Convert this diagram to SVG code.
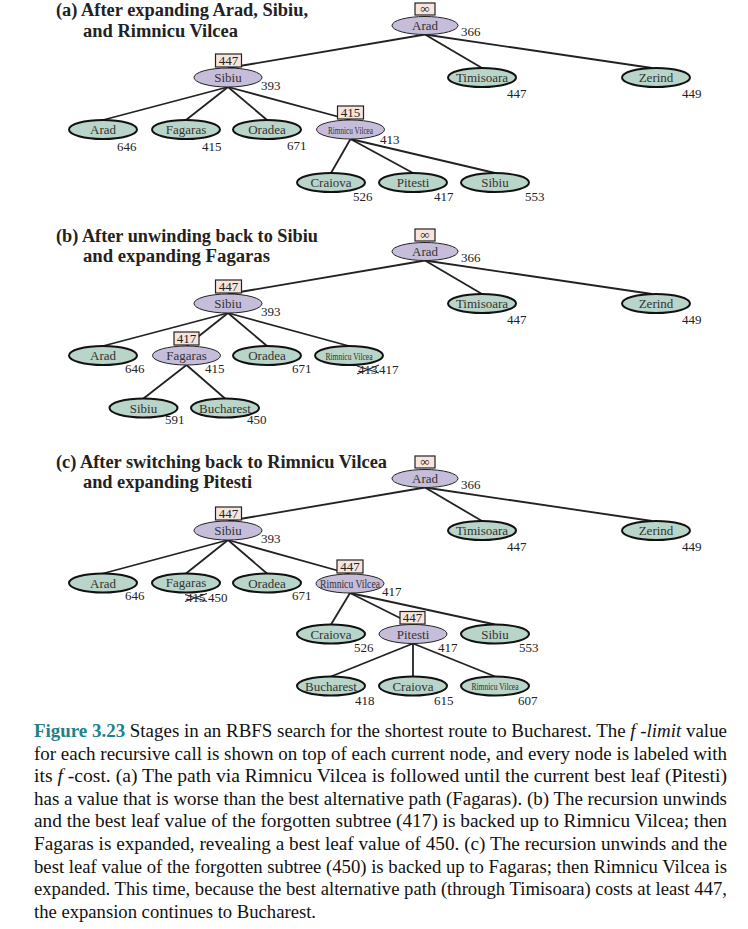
<svg xmlns="http://www.w3.org/2000/svg" width="748" height="929" viewBox="0 0 748 929">
<style>
.pn{fill:#c5bdd9;stroke:#222;stroke-width:1}
.gn{fill:#b9d4c8;stroke:#111;stroke-width:2}
.bx{fill:#f7e5dd;stroke:#222;stroke-width:1.2}
.lbl{font-family:"Liberation Serif",serif;font-size:13px;text-anchor:middle;fill:#333}
.sm{font-size:11px}
.num{font-family:"Liberation Serif",serif;font-size:13px;fill:#222}
.bxt{font-family:"Liberation Serif",serif;font-size:13px;text-anchor:middle;fill:#222}
.edge{stroke:#222;stroke-width:1.8;fill:none}
.x{stroke:#222;stroke-width:1.3}
.ttl{font-family:"Liberation Serif",serif;font-weight:bold;font-size:18px;fill:#222}
.cap{font-family:"Liberation Serif",serif;font-size:18px;fill:#111}
.fig{font-weight:bold;fill:#23808a}
.it{font-style:italic}
</style>
<rect width="748" height="929" fill="#fff"/>

<!-- Titles -->
<text class="ttl" x="56" y="16" textLength="252" lengthAdjust="spacingAndGlyphs">(a) After expanding Arad, Sibiu,</text>
<text class="ttl" x="83" y="37" textLength="155" lengthAdjust="spacingAndGlyphs">and Rimnicu Vilcea</text>
<text class="ttl" x="56" y="242" textLength="262" lengthAdjust="spacingAndGlyphs">(b) After unwinding back to Sibiu</text>
<text class="ttl" x="83" y="262" textLength="187" lengthAdjust="spacingAndGlyphs">and expanding Fagaras</text>
<text class="ttl" x="56" y="468" textLength="331" lengthAdjust="spacingAndGlyphs">(c) After switching back to Rimnicu Vilcea</text>
<text class="ttl" x="83" y="488" textLength="169" lengthAdjust="spacingAndGlyphs">and expanding Pitesti</text>

<!-- Connectors -->
<g id="connectors">
<line class="edge" x1="425" y1="34.5" x2="228" y2="68"/>
<line class="edge" x1="425" y1="34.5" x2="482" y2="68"/>
<line class="edge" x1="425" y1="34.5" x2="652" y2="68"/>
<line class="edge" x1="228" y1="87" x2="103" y2="120"/>
<line class="edge" x1="228" y1="87" x2="186" y2="120"/>
<line class="edge" x1="228" y1="87" x2="267" y2="120"/>
<line class="edge" x1="228" y1="87" x2="350.5" y2="120"/>
<line class="edge" x1="350.5" y1="139" x2="331" y2="173"/>
<line class="edge" x1="350.5" y1="139" x2="413" y2="173"/>
<line class="edge" x1="350.5" y1="139" x2="495" y2="173"/>

<line class="edge" x1="425" y1="260.5" x2="228" y2="294"/>
<line class="edge" x1="425" y1="260.5" x2="482" y2="294"/>
<line class="edge" x1="425" y1="260.5" x2="652" y2="294"/>
<line class="edge" x1="228" y1="313" x2="103" y2="346"/>
<line class="edge" x1="228" y1="313" x2="186.5" y2="346"/>
<line class="edge" x1="228" y1="313" x2="267" y2="346"/>
<line class="edge" x1="228" y1="313" x2="349" y2="346"/>
<line class="edge" x1="186.5" y1="365" x2="143.5" y2="398.5"/>
<line class="edge" x1="186.5" y1="365" x2="225" y2="398.5"/>

<line class="edge" x1="425" y1="487.5" x2="228" y2="521"/>
<line class="edge" x1="425" y1="487.5" x2="482" y2="521"/>
<line class="edge" x1="425" y1="487.5" x2="652" y2="521"/>
<line class="edge" x1="228" y1="540" x2="103" y2="573.5"/>
<line class="edge" x1="228" y1="540" x2="186" y2="573.5"/>
<line class="edge" x1="228" y1="540" x2="267" y2="573.5"/>
<line class="edge" x1="228" y1="540" x2="350" y2="574"/>
<line class="edge" x1="350" y1="593" x2="331" y2="624.5"/>
<line class="edge" x1="350" y1="593" x2="413" y2="624.5"/>
<line class="edge" x1="350" y1="593" x2="495" y2="624.5"/>
<line class="edge" x1="413" y1="643.5" x2="331" y2="676.5"/>
<line class="edge" x1="413" y1="643.5" x2="413" y2="676.5"/>
<line class="edge" x1="413" y1="643.5" x2="495" y2="676.5"/>
</g>

<!-- Section (a) nodes -->
<g id="a-arad"><ellipse class="pn" cx="425" cy="25.5" rx="33" ry="9"/><text class="lbl" x="425" y="30">Arad</text><rect class="bx" x="415" y="3" width="20" height="12"/><text class="bxt" x="425" y="13" font-size="11">∞</text><text class="num" x="461" y="36">366</text></g>
<g id="a-timisoara"><ellipse class="gn" cx="482" cy="77.5" rx="34" ry="9.5"/><text class="lbl" x="482" y="82">Timisoara</text><text class="num" x="507" y="98">447</text></g>
<g id="a-zerind"><ellipse class="gn" cx="656" cy="77.5" rx="34" ry="9.5"/><text class="lbl" x="656" y="82">Zerind</text><text class="num" x="682" y="98">449</text></g>
<g id="a-sibiu"><ellipse class="pn" cx="228" cy="77.5" rx="34" ry="9.5"/><text class="lbl" x="228" y="82">Sibiu</text><rect class="bx" x="215.5" y="54" width="26" height="13"/><text class="bxt" x="228.5" y="65">447</text><text class="num" x="261" y="90">393</text></g>
<g id="a-arad2"><ellipse class="gn" cx="103" cy="129.5" rx="34" ry="9.5"/><text class="lbl" x="103" y="134">Arad</text><text class="num" x="117" y="151">646</text></g>
<g id="a-fagaras"><ellipse class="gn" cx="186" cy="129.5" rx="34" ry="9.5"/><text class="lbl" x="186" y="134">Fagaras</text><text class="num" x="202" y="151">415</text></g>
<g id="a-oradea"><ellipse class="gn" cx="267" cy="129.5" rx="34" ry="9.5"/><text class="lbl" x="267" y="134">Oradea</text><text class="num" x="287" y="150">671</text></g>
<g id="a-rimnicu"><ellipse class="pn" cx="350.5" cy="129.5" rx="34" ry="9.5"/><text class="lbl sm" transform="translate(350.5,133.5) scale(0.66,1)" x="0" y="0">Rimnicu Vilcea</text><rect class="bx" x="337.5" y="106" width="26" height="13"/><text class="bxt" x="350.5" y="117">415</text><text class="num" x="380" y="144">413</text></g>
<g id="a-craiova"><ellipse class="gn" cx="331" cy="182.5" rx="34" ry="9.5"/><text class="lbl" x="331" y="187">Craiova</text><text class="num" x="353" y="201">526</text></g>
<g id="a-pitesti"><ellipse class="gn" cx="413" cy="182.5" rx="34" ry="9.5"/><text class="lbl" x="413" y="187">Pitesti</text><text class="num" x="434" y="201">417</text></g>
<g id="a-sibiu2"><ellipse class="gn" cx="495" cy="182.5" rx="34" ry="9.5"/><text class="lbl" x="495" y="187">Sibiu</text><text class="num" x="525" y="201">553</text></g>

<!-- Section (b) nodes -->
<g id="b-arad"><ellipse class="pn" cx="425" cy="251.5" rx="33" ry="9"/><text class="lbl" x="425" y="256">Arad</text><rect class="bx" x="415" y="229" width="20" height="12"/><text class="bxt" x="425" y="239" font-size="11">∞</text><text class="num" x="461" y="262">366</text></g>
<g id="b-timisoara"><ellipse class="gn" cx="482" cy="303.5" rx="34" ry="9.5"/><text class="lbl" x="482" y="308">Timisoara</text><text class="num" x="507" y="324">447</text></g>
<g id="b-zerind"><ellipse class="gn" cx="656" cy="303.5" rx="34" ry="9.5"/><text class="lbl" x="656" y="308">Zerind</text><text class="num" x="682" y="324">449</text></g>
<g id="b-sibiu"><ellipse class="pn" cx="228" cy="303.5" rx="34" ry="9.5"/><text class="lbl" x="228" y="308">Sibiu</text><rect class="bx" x="215.5" y="280" width="26" height="13"/><text class="bxt" x="228.5" y="291">447</text><text class="num" x="261" y="316">393</text></g>
<g id="b-arad2"><ellipse class="gn" cx="103" cy="355.5" rx="34" ry="9.5"/><text class="lbl" x="103" y="360">Arad</text><text class="num" x="125" y="373">646</text></g>
<g id="b-fagaras"><ellipse class="pn" cx="186.5" cy="355.5" rx="34" ry="9.5"/><text class="lbl" x="186.5" y="360">Fagaras</text><rect class="bx" x="174" y="332" width="25" height="13"/><text class="bxt" x="186.5" y="343">417</text><text class="num" x="205" y="373">415</text></g>
<g id="b-oradea"><ellipse class="gn" cx="267" cy="355.5" rx="34" ry="9.5"/><text class="lbl" x="267" y="360">Oradea</text><text class="num" x="292" y="373">671</text></g>
<g id="b-rimnicu"><ellipse class="gn" cx="349" cy="355.5" rx="34" ry="9.5"/><text class="lbl sm" transform="translate(349,359.5) scale(0.69,1)" x="0" y="0">Rimnicu Vilcea</text><text class="num" x="358" y="374">413</text><line class="x" x1="357" y1="374" x2="379" y2="365"/><line class="x" x1="357" y1="366" x2="379" y2="373"/><text class="num" x="379" y="374">417</text></g>
<g id="b-sibiu3"><ellipse class="gn" cx="143.5" cy="408" rx="34" ry="9.5"/><text class="lbl" x="143.5" y="412.5">Sibiu</text><text class="num" x="165" y="424">591</text></g>
<g id="b-bucharest"><ellipse class="gn" cx="225" cy="408" rx="34" ry="9.5"/><text class="lbl" x="225" y="412.5">Bucharest</text><text class="num" x="247" y="424">450</text></g>

<!-- Section (c) nodes -->
<g id="c-arad"><ellipse class="pn" cx="425" cy="478.5" rx="33" ry="9"/><text class="lbl" x="425" y="483">Arad</text><rect class="bx" x="415" y="456" width="20" height="12"/><text class="bxt" x="425" y="466" font-size="11">∞</text><text class="num" x="461" y="489">366</text></g>
<g id="c-timisoara"><ellipse class="gn" cx="482" cy="530.5" rx="34" ry="9.5"/><text class="lbl" x="482" y="535">Timisoara</text><text class="num" x="507" y="551">447</text></g>
<g id="c-zerind"><ellipse class="gn" cx="656" cy="530.5" rx="34" ry="9.5"/><text class="lbl" x="656" y="535">Zerind</text><text class="num" x="682" y="551">449</text></g>
<g id="c-sibiu"><ellipse class="pn" cx="228" cy="530.5" rx="34" ry="9.5"/><text class="lbl" x="228" y="535">Sibiu</text><rect class="bx" x="215.5" y="507" width="26" height="13"/><text class="bxt" x="228.5" y="518">447</text><text class="num" x="261" y="543">393</text></g>
<g id="c-arad2"><ellipse class="gn" cx="103" cy="583" rx="34" ry="9.5"/><text class="lbl" x="103" y="587.5">Arad</text><text class="num" x="125" y="600">646</text></g>
<g id="c-fagaras"><ellipse class="gn" cx="186" cy="583" rx="34" ry="9.5"/><text class="lbl" x="186" y="587">Fagaras</text><text class="num" x="186" y="601.5">415</text><line class="x" x1="185" y1="601.5" x2="207" y2="593.5"/><line class="x" x1="185" y1="594.5" x2="207" y2="601.5"/><text class="num" x="208" y="601.5">450</text></g>
<g id="c-oradea"><ellipse class="gn" cx="267" cy="583" rx="34" ry="9.5"/><text class="lbl" x="267" y="587.5">Oradea</text><text class="num" x="292" y="600">671</text></g>
<g id="c-rimnicu"><ellipse class="pn" cx="350" cy="583.5" rx="34" ry="9.5"/><text class="lbl" font-size="12" transform="translate(350,588) scale(0.74,1)" x="0" y="0">Rimnicu Vilcea</text><rect class="bx" x="337" y="560" width="26" height="13"/><text class="bxt" x="350" y="571">447</text><text class="num" x="382" y="596">417</text></g>
<g id="c-craiova"><ellipse class="gn" cx="331" cy="634" rx="34" ry="9.5"/><text class="lbl" x="331" y="638.5">Craiova</text><text class="num" x="354" y="652">526</text></g>
<g id="c-pitesti"><ellipse class="pn" cx="413" cy="634" rx="34" ry="9.5"/><text class="lbl" x="413" y="638.5">Pitesti</text><rect class="bx" x="400" y="611.5" width="25" height="12.5"/><text class="bxt" x="412.5" y="622">447</text><text class="num" x="438" y="652">417</text></g>
<g id="c-sibiu2"><ellipse class="gn" cx="495" cy="634" rx="34" ry="9.5"/><text class="lbl" x="495" y="638.5">Sibiu</text><text class="num" x="519" y="652">553</text></g>
<g id="c-bucharest"><ellipse class="gn" cx="331" cy="686" rx="34" ry="9.5"/><text class="lbl" x="331" y="690.5">Bucharest</text><text class="num" x="355" y="705">418</text></g>
<g id="c-craiova2"><ellipse class="gn" cx="413" cy="686" rx="34" ry="9.5"/><text class="lbl" x="413" y="690.5">Craiova</text><text class="num" x="434" y="705">615</text></g>
<g id="c-rimnicu2"><ellipse class="gn" cx="495" cy="686" rx="34" ry="9.5"/><text class="lbl sm" transform="translate(495,690) scale(0.69,1)" x="0" y="0">Rimnicu Vilcea</text><text class="num" x="518" y="705">607</text></g>

<!-- Caption -->
<g id="caption">
<text class="cap" x="34" y="737" textLength="693" lengthAdjust="spacingAndGlyphs"><tspan class="fig">Figure 3.23</tspan>  Stages in an RBFS search for the shortest route to Bucharest. The <tspan class="it">f -limit</tspan> value</text>
<text class="cap" x="34" y="760" textLength="693" lengthAdjust="spacingAndGlyphs">for each recursive call is shown on top of each current node, and every node is labeled with</text>
<text class="cap" x="34" y="782" textLength="693" lengthAdjust="spacingAndGlyphs">its <tspan class="it">f</tspan> -cost.  (a) The path via Rimnicu Vilcea is followed until the current best leaf (Pitesti)</text>
<text class="cap" x="34" y="805" textLength="693" lengthAdjust="spacingAndGlyphs">has a value that is worse than the best alternative path (Fagaras). (b) The recursion unwinds</text>
<text class="cap" x="34" y="827" textLength="693" lengthAdjust="spacingAndGlyphs">and the best leaf value of the forgotten subtree (417) is backed up to Rimnicu Vilcea; then</text>
<text class="cap" x="34" y="850" textLength="693" lengthAdjust="spacingAndGlyphs">Fagaras is expanded, revealing a best leaf value of 450.  (c) The recursion unwinds and the</text>
<text class="cap" x="34" y="873" textLength="693" lengthAdjust="spacingAndGlyphs">best leaf value of the forgotten subtree (450) is backed up to Fagaras; then Rimnicu Vilcea is</text>
<text class="cap" x="34" y="895" textLength="693" lengthAdjust="spacingAndGlyphs">expanded. This time, because the best alternative path (through Timisoara) costs at least 447,</text>
<text class="cap" x="34" y="918" textLength="282" lengthAdjust="spacingAndGlyphs">the expansion continues to Bucharest.</text>
</g>
</svg>
